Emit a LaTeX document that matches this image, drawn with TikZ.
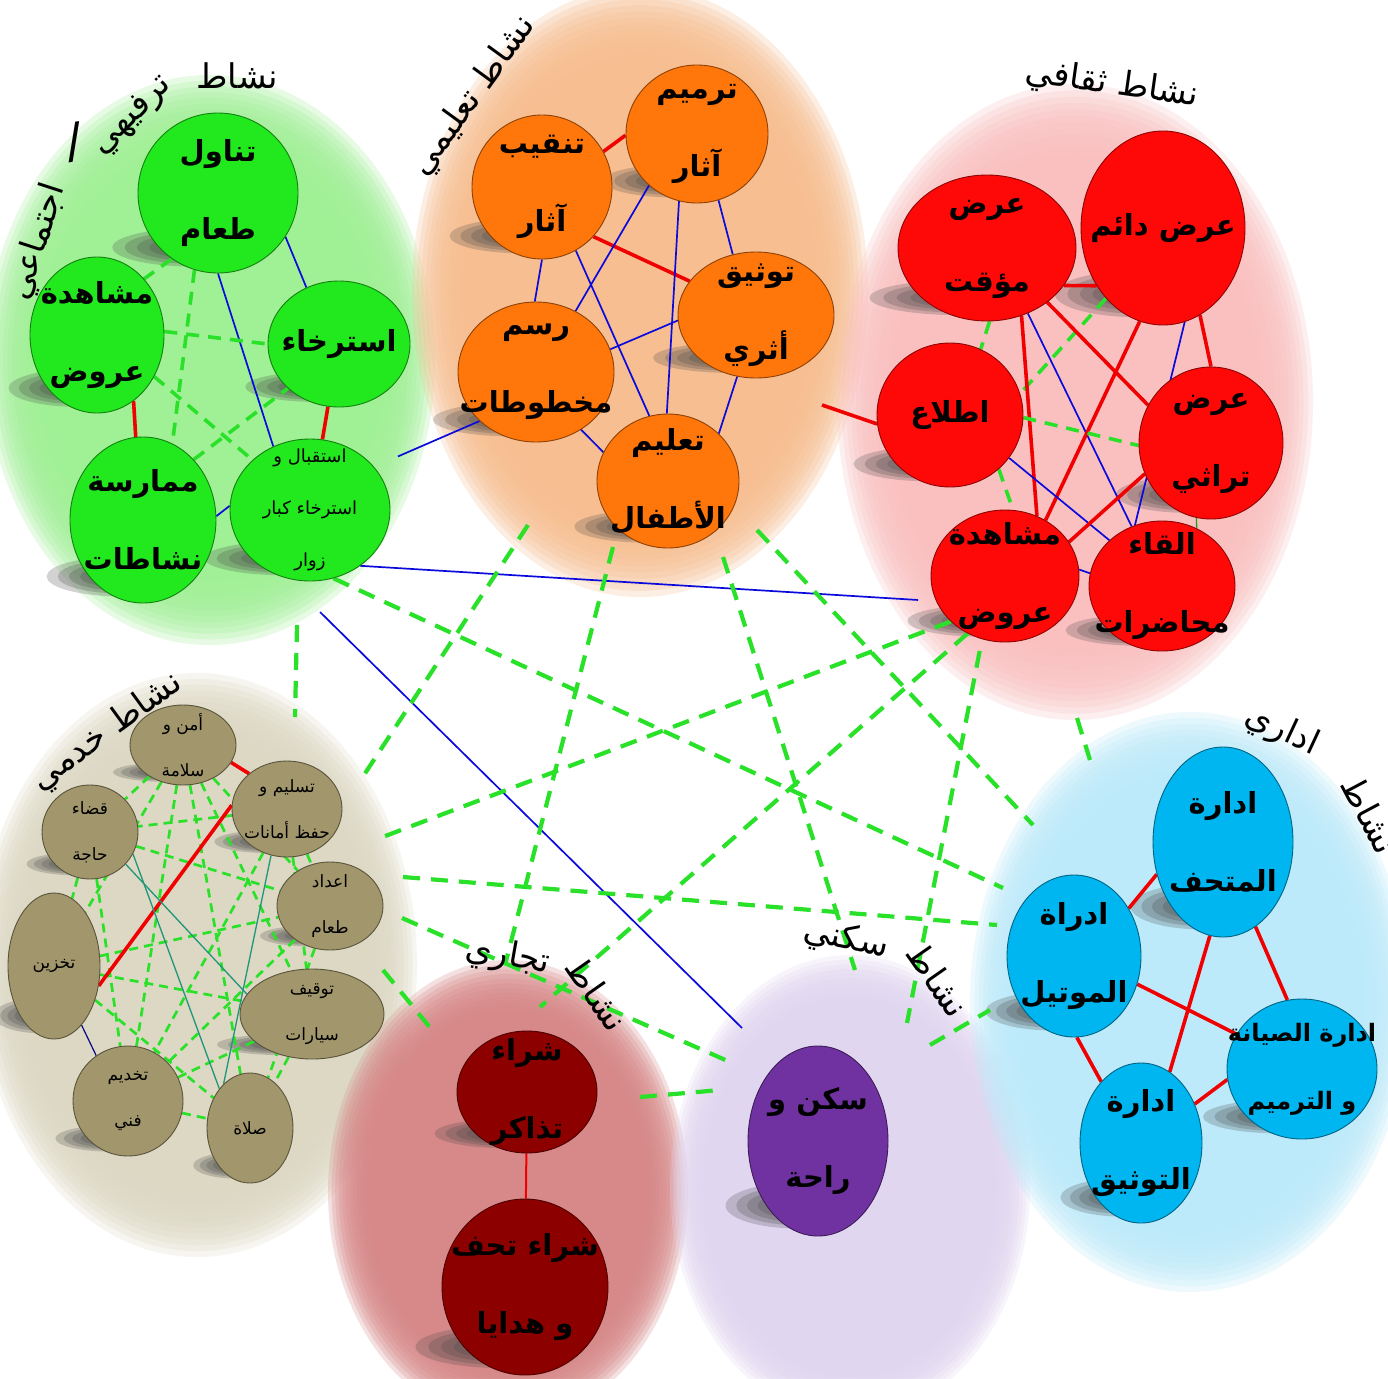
\documentclass[tikz,border=0pt]{standalone}
\usepackage{fontspec}
\newfontfamily\arf[Script=Arabic]{DejaVu Sans}
\TeXXeTstate=1
\usetikzlibrary{shapes.geometric}
\newcommand{\myRL}[1]{\beginR #1\endR}

\definecolor{gfill}{RGB}{34,232,30}
\definecolor{ofill}{RGB}{255,118,10}
\definecolor{rfill}{RGB}{255,8,8}
\definecolor{kfill}{RGB}{162,151,108}
\definecolor{tfill}{RGB}{140,0,0}
\definecolor{sfill}{RGB}{112,50,160}
\definecolor{afill}{RGB}{0,182,240}
\definecolor{gglow}{RGB}{160,240,150}
\definecolor{oglow}{RGB}{247,190,145}
\definecolor{rglow}{RGB}{250,192,192}
\definecolor{kglow}{RGB}{221,216,196}
\definecolor{tglow}{RGB}{215,135,135}
\definecolor{sglow}{RGB}{225,214,240}
\definecolor{aglow}{RGB}{188,234,250}
\definecolor{dashc}{RGB}{40,225,40}
\definecolor{linered}{RGB}{240,0,0}
\definecolor{lineblue}{RGB}{10,10,220}
\definecolor{lineteal}{RGB}{30,150,120}
\definecolor{shadowc}{RGB}{70,70,70}

\pgfdeclarelayer{glow}
\pgfdeclarelayer{shadow}
\pgfdeclarelayer{edges}
\pgfsetlayers{glow,shadow,edges,main}

\tikzset{
  bubble/.style={ellipse, draw=#1!55!black, fill=#1, line width=0.9pt, inner sep=0pt},
  bigtxt/.style={font=\arf\bfseries\fontsize{29}{78}\selectfont, align=center, inner sep=0pt},
  midtxt/.style={font=\arf\bfseries\fontsize{24}{68}\selectfont, align=center, inner sep=0pt},
  smalltxt/.style={font=\arf\fontsize{18}{52}\selectfont, align=center, inner sep=0pt},
  ktxt/.style={font=\arf\fontsize{17}{46}\selectfont, align=center, inner sep=0pt},
  ttl/.style={font=\arf\fontsize{34}{36}\selectfont, inner sep=0pt},
  redE/.style={draw=linered, line width=3.6pt},
  redT/.style={draw=linered, line width=2pt},
  blueE/.style={draw=lineblue, line width=1.7pt},
  tealE/.style={draw=lineteal, line width=1.3pt},
  dashE/.style={draw=dashc, line width=3.6pt, dash pattern=on 13pt off 9pt},
  dashK/.style={draw=dashc, line width=2.7pt, dash pattern=on 9pt off 6pt},
  dashX/.style={draw=dashc, line width=4.2pt, dash pattern=on 17pt off 11pt},
}

% soft-edged cluster background: colour, cx, cy, rx, ry
\newcommand{\glowell}[5]{%
  \foreach \s in {0.76,0.78,...,1.005}{
    \fill[#1, fill opacity=0.25] (#2,#3) ellipse [x radius={\s*#4*1pt}, y radius={\s*#5*1pt}];
  }
}

% name, x, y, rx, ry, fill colour, text style, text
\newcommand{\mybub}[8]{%
  \begin{pgfonlayer}{shadow}
    \foreach \s in {1.0,0.85,0.7,0.55}{
      \fill[shadowc, fill opacity=0.24] ({#2-0.3*#4},{#3+0.68*#5}) ellipse [x radius={\s*1.02*#4*1pt}, y radius={\s*0.24*#5*1pt}];
    }
  \end{pgfonlayer}
  \node[bubble=#6, minimum width={2*#4*1pt}, minimum height={2*#5*1pt}] (#1) at (#2,#3) {};
  \node[#7] at (#1.center) {#8};
}

\begin{document}
\begin{tikzpicture}[x=1pt,y=-1pt]
\useasboundingbox (0,0) rectangle (1388,1378);

\begin{pgfonlayer}{glow}
  \fill[white] (0,0) rectangle (1388,1378);
  \glowell{gglow}{210}{360}{225}{285}
  \glowell{oglow}{640}{292}{228}{305}
  \glowell{rglow}{1075}{402}{238}{318}
  \glowell{kglow}{197}{965}{220}{292}
  \glowell{tglow}{508}{1192}{180}{232}
  \glowell{sglow}{850}{1187}{180}{232}
  \glowell{aglow}{1190}{1002}{220}{290}
\end{pgfonlayer}

% ---------- green cluster
\mybub{G1}{218}{193}{80}{80}{gfill}{bigtxt}{\myRL{تناول}\\\myRL{طعام}}
\mybub{G2}{97}{335}{67}{78}{gfill}{bigtxt}{\myRL{مشاهدة}\\\myRL{عروض}}
\mybub{G3}{339}{344}{71}{63}{gfill}{bigtxt}{\myRL{استرخاء}}
\mybub{G4}{143}{520}{73}{83}{gfill}{bigtxt}{\myRL{ممارسة}\\\myRL{نشاطات}}
\mybub{G5}{310}{510}{80}{71}{gfill}{smalltxt}{\myRL{استقبال و}\\\myRL{استرخاء كبار}\\\myRL{زوار}}

% ---------- orange cluster
\mybub{O1}{542}{187}{70}{72}{ofill}{bigtxt}{\myRL{تنقيب}\\\myRL{آثار}}
\mybub{O2}{697}{134}{71}{69}{ofill}{bigtxt}{\myRL{ترميم}\\\myRL{آثار}}
\mybub{O3}{756}{315}{78}{63}{ofill}{bigtxt}{\myRL{توثيق}\\\myRL{أثري}}
\mybub{O4}{536}{372}{78}{70}{ofill}{bigtxt}{\myRL{رسم}\\\myRL{مخطوطات}}
\mybub{O5}{668}{481}{71}{67}{ofill}{bigtxt}{\myRL{تعليم}\\\myRL{الأطفال}}

% ---------- red cluster
\mybub{R1}{987}{248}{89}{73}{rfill}{bigtxt}{\myRL{عرض}\\\myRL{مؤقت}}
\mybub{R2}{1163}{228}{82}{97}{rfill}{bigtxt}{\myRL{عرض دائم}}
\mybub{R3}{950}{415}{73}{72}{rfill}{bigtxt}{\myRL{اطلاع}}
\mybub{R4}{1211}{443}{72}{76}{rfill}{bigtxt}{\myRL{عرض}\\\myRL{تراثي}}
\mybub{R5}{1005}{576}{74}{66}{rfill}{bigtxt}{\myRL{مشاهدة}\\\myRL{عروض}}
\mybub{R6}{1162}{586}{73}{65}{rfill}{bigtxt}{\myRL{القاء}\\\myRL{محاضرات}}

% ---------- service cluster
\mybub{K1}{183}{745}{53}{40}{kfill}{ktxt}{\myRL{أمن و}\\\myRL{سلامة}}
\mybub{K2}{287}{809}{55}{48}{kfill}{ktxt}{\myRL{تسليم و}\\\myRL{حفظ أمانات}}
\mybub{K3}{90}{832}{48}{47}{kfill}{ktxt}{\myRL{قضاء}\\\myRL{حاجة}}
\mybub{K4}{330}{906}{53}{44}{kfill}{ktxt}{\myRL{اعداد}\\\myRL{طعام}}
\mybub{K5}{54}{966}{46}{73}{kfill}{ktxt}{\myRL{تخزين}}
\mybub{K6}{312}{1014}{72}{45}{kfill}{ktxt}{\myRL{توقيف}\\\myRL{سيارات}}
\mybub{K7}{128}{1101}{55}{55}{kfill}{ktxt}{\myRL{تخديم}\\\myRL{فني}}
\mybub{K8}{250}{1128}{43}{55}{kfill}{ktxt}{\myRL{صلاة}}

% ---------- commercial, residential, administrative
\mybub{T1}{527}{1092}{70}{61}{tfill}{bigtxt}{\myRL{شراء}\\\myRL{تذاكر}}
\mybub{T2}{525}{1287}{83}{88}{tfill}{bigtxt}{\myRL{شراء تحف}\\\myRL{و هدايا}}
\mybub{S1}{818}{1141}{70}{95}{sfill}{bigtxt}{\myRL{سكن و}\\\myRL{راحة}}
\mybub{A1}{1223}{842}{70}{95}{afill}{bigtxt}{\myRL{ادارة}\\\myRL{المتحف}}
\mybub{A2}{1074}{956}{67}{81}{afill}{bigtxt}{\myRL{ادراة}\\\myRL{الموتيل}}
\mybub{A3}{1302}{1069}{75}{70}{afill}{midtxt}{\myRL{ادارة الصيانة}\\\myRL{و الترميم}}
\mybub{A4}{1141}{1143}{61}{80}{afill}{bigtxt}{\myRL{ادارة}\\\myRL{التوثيق}}

% ---------- free ends of connectors between clusters
\coordinate (f1b) at (1003,888);
\coordinate (f2a) at (528,525);  \coordinate (f2b) at (362,778);
\coordinate (f3a) at (613,547);  \coordinate (f3b) at (505,965);
\coordinate (f4a) at (723,557);  \coordinate (f4b) at (855,970);
\coordinate (f5a) at (757,530);  \coordinate (f5b) at (1033,825);
\coordinate (f6b) at (380,838);
\coordinate (f7b) at (540,1007);
\coordinate (f8b) at (907,1023);
\coordinate (f9a) at (1077,718); \coordinate (f9b) at (1090,760);
\coordinate (f10a) at (403,877); \coordinate (f10b) at (997,925);
\coordinate (f11a) at (402,918); \coordinate (f11b) at (730,1062);
\coordinate (f12a) at (383,970); \coordinate (f12b) at (432,1030);
\coordinate (f13a) at (640,1097); \coordinate (f13b) at (720,1090);
\coordinate (f14a) at (930,1045); \coordinate (f14b) at (990,1010);
\coordinate (f15a) at (297,625); \coordinate (f15b) at (295,717);
\coordinate (f16a) at (320,612); \coordinate (f16b) at (742,1028);
\coordinate (f17a) at (822,405);

\begin{pgfonlayer}{edges}
  % green cluster
  \draw[blueE] (G1.-33) -- (G3.120);
  \draw[blueE] (G1.-90) -- (G5.120);
  \draw[redE] (G2.-61) -- (G4.95);
  \draw[redE] (G3.-100) -- (G5.80);
  \draw[blueE] (G4.3) -- (G5.177);
  \draw[dashE] (G1.235) -- (G2.50);
  \draw[dashE] (G1.253) -- (G4.69);
  \draw[dashE] (G2.3) -- (G3.180);
  \draw[dashE] (G2.-36) -- (G5.139);
  \draw[dashE] (G4.50) -- (G3.221);
  % orange cluster
  \draw[redE] (O1.30) -- (O2.181);
  \draw[redE] (O1.-44) -- (O3.153);
  \draw[blueE] (O1.-90) -- (O4.91);
  \draw[blueE] (O1.-62) -- (O5.106);
  \draw[blueE] (O2.227) -- (O4.57);
  \draw[blueE] (O2.255) -- (O5.91);
  \draw[blueE] (O2.-72) -- (O3.111);
  \draw[blueE] (O4.17) -- (O3.184);
  \draw[blueE] (O4.-52) -- (O5.156);
  \draw[blueE] (O3.253) -- (O5.43);
  % red cluster
  \draw[redE] (R1.-26) -- (R2.221);
  \draw[dashE] (R2.231) -- (R3.17);
  \draw[dashE] (R1.-88) -- (R3.65);
  \draw[redE] (R1.-63) -- (R5.62);
  \draw[blueE] (R1.-58) -- (R6.117);
  \draw[redE] (R1.-42) -- (R4.149);
  \draw[redE] (R2.256) -- (R5.54);
  \draw[blueE] (R2.-77) -- (R6.114);
  \draw[redE] (R2.-67) -- (R4.90);
  \draw[dashE] (R3.-2) -- (R4.182);
  \draw[blueE] (R3.-36) -- (R6.139);
  \draw[dashE] (R3.-48) -- (R5.83);
  \draw[redE] (R4.205) -- (R5.28);
  \draw[blueE] (R5.5) -- (R6.170);
  \draw[tealE, draw=dashc!70!black] (R4.259) -- (R6.59);
  % service cluster
  \foreach \a/\b in {K1/K3,K1/K5,K1/K7,K1/K8,K1/K6,K1/K4,K2/K3,K2/K7,K2/K6,K2/K4,
                     K3/K5,K3/K4,K3/K7,K5/K4,K5/K6,K5/K8,K4/K7,K4/K8,K6/K7,K6/K8,K7/K8}
    \draw[dashK] (\a) -- (\b);
  \draw[redE] (K5.-24) -- (K2.176);
  \draw[redE] (K1.-20) -- (K2.137);
  \draw[tealE] (K3.-42) -- (K6.163);
  \draw[tealE] (K3.-27) -- (K8.128);
  \draw[tealE] (K2.251) -- (K8.121);
  \draw[draw=lineblue!60!black, line width=1.2pt] (K5.-65) -- (K7.125);
  % commercial
  \draw[redT] (T1) -- (T2);
  % administrative
  \draw[redE] (A1.206) -- (A2.41);
  \draw[redE] (A1.-69) -- (A3.102);
  \draw[redE] (A1.262) -- (A4.68);
  \draw[redE] (A2.-24) -- (A3.152);
  \draw[redE] (A2.-88) -- (A4.123);
  \draw[redE] (A4.36) -- (A3.188);
  % between clusters
  \draw[blueE, shorten <=26pt] (G5.34) -- (O4.221);
  \draw[blueE, shorten >=18pt] (G5.-48) -- (R5.200);
  \draw[blueE] (f16a) -- (f16b);
  \draw[redE] (f17a) -- (R3.187);
  \draw[dashX] (G5.-71) -- (f1b);
  \draw[dashX] (f2a) -- (f2b);
  \draw[dashX] (f3a) -- (f3b);
  \draw[dashX] (f4a) -- (f4b);
  \draw[dashX] (f5a) -- (f5b);
  \draw[dashX] (R5.220) -- (f6b);
  \draw[dashX] (R5.237) -- (f7b);
  \draw[dashX, shorten <=12pt] (R5.250) -- (f8b);
  \draw[dashX] (f9a) -- (f9b);
  \draw[dashX] (f10a) -- (f10b);
  \draw[dashX] (f11a) -- (f11b);
  \draw[dashX] (f12a) -- (f12b);
  \draw[dashX] (f13a) -- (f13b);
  \draw[dashX] (f14a) -- (f14b);
  \draw[dashX] (f15a) -- (f15b);
\end{pgfonlayer}

% ---------- titles
\node[ttl] (tg1) at (237,76) {\myRL{نشاط}};
\node[ttl, rotate=45] (tg2) at (133,116) {\myRL{ترفيهي}};
\node[ttl, font=\arf\fontsize{48}{48}\selectfont, rotate=8] (tg3) at (74,142) {/};
\node[ttl, rotate=72] (tg4) at (38,242) {\myRL{اجتماعي}};
\node[ttl, rotate=54] (to) at (474,96) {\myRL{نشاط تعليمي}};
\node[ttl, rotate=-8] (tr) at (1112,85) {\myRL{نشاط ثقافي}};
\node[ttl, rotate=36] (tk) at (107,732) {\myRL{نشاط خدمي}};
\node[ttl, rotate=-10] (tt1) at (508,957) {\myRL{تجاري}};
\node[ttl, rotate=-55] (tt2) at (597,994) {\myRL{نشاط}};
\node[ttl, rotate=-12] (ts1) at (846,940) {\myRL{سكني}};
\node[ttl, rotate=-55] (ts2) at (938,980) {\myRL{نشاط}};
\node[ttl, rotate=-25] (ta1) at (1282,731) {\myRL{اداري}};
\node[ttl, rotate=-62] (ta2) at (1370,815) {\myRL{نشاط}};
\end{tikzpicture}
\end{document}
